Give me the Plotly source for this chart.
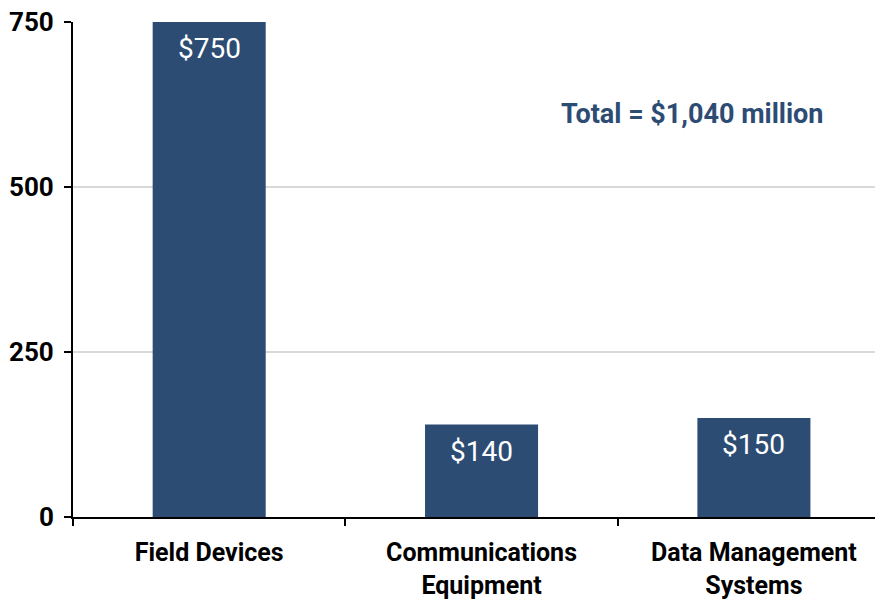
import plotly.graph_objects as go

categories = ["Field Devices", "Communications<br>Equipment", "Data Management<br>Systems"]
values = [750, 140, 150]
labels = ["$750", "$140", "$150"]
y_ticks = [0, 250, 500, 750]
total_text = "Total = $1,040 million"

bar_color = "#2c4c74"
font_family = "Roboto, 'Open Sans', sans-serif"

fig = go.Figure()
fig.add_trace(go.Bar(
    x=list(range(len(categories))), y=values,
    marker=dict(color=bar_color, line=dict(width=0)),
    width=0.415,
    hoverinfo="skip",
))

for i, (v, t) in enumerate(zip(values, labels)):
    fig.add_annotation(x=i, y=v, xref="x", yref="y", text=t, showarrow=False,
                       yanchor="top", yshift=-8,
                       font=dict(family=font_family, size=28, color="white"))

fig.add_annotation(x=0.765, y=0.814, xref="paper", yref="paper", text="<b>" + total_text + "</b>",
                   showarrow=False, xanchor="center", yanchor="middle",
                   font=dict(family=font_family, size=27, color=bar_color))

fig.update_layout(
    width=875, height=592,
    margin=dict(l=65, r=0, t=14, b=83),
    paper_bgcolor="white", plot_bgcolor="white",
    showlegend=False,
    font=dict(family=font_family, color="black"),
)
fig.update_xaxes(
    automargin=False,
    range=[-0.5, 2.474],
    tickmode="array", tickvals=list(range(len(categories))),
    ticktext=["<b>" + c + "</b>" for c in categories],
    tickfont=dict(size=25, color="black", family=font_family),
    ticklabelstandoff=12,
    showline=True, linecolor="black", linewidth=2,
    showgrid=False, zeroline=False,
    ticks="",
)
fig.update_xaxes(minor=dict(tickmode="array", tickvals=[-0.5, 0.5, 1.5], ticks="outside",
                            ticklen=7, tickwidth=2, tickcolor="black", showgrid=False))
fig.update_yaxes(
    automargin=False,
    range=[0, 750],
    tickmode="array", tickvals=y_ticks, ticktext=["<b>%d</b>" % v for v in y_ticks],
    tickfont=dict(size=26, color="black", family=font_family),
    ticklabelstandoff=5,
    ticklabeloverflow="allow",
    showline=True, linecolor="black", linewidth=2,
    ticks="outside", ticklen=7, tickwidth=2, tickcolor="black",
    showgrid=True, gridcolor="#d9d9d9", gridwidth=1.5,
    zeroline=False,
)

fig.write_html("out.html")
